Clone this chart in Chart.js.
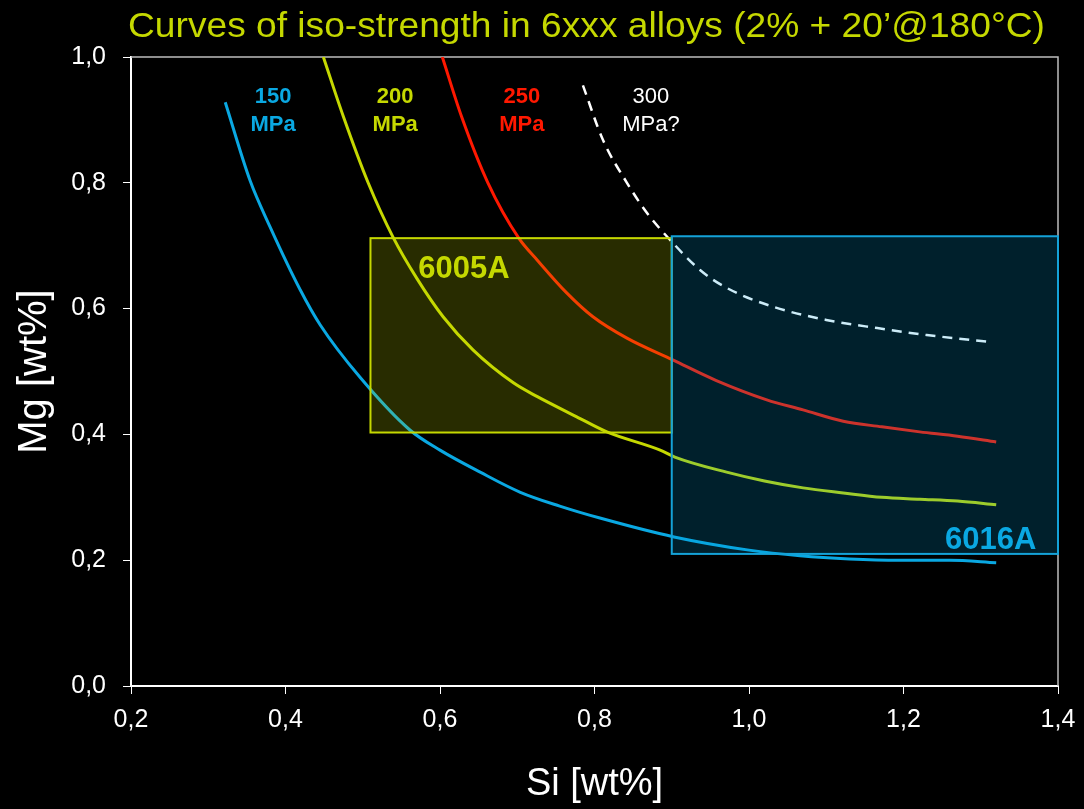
<!DOCTYPE html>
<html>
<head>
<meta charset="utf-8">
<script src="https://cdn.jsdelivr.net/npm/chart.js@4.4.0/dist/chart.umd.min.js"></script>
<style>
  html, body { margin: 0; padding: 0; background: #000; }
  #wrap { width: 1084px; height: 809px; }
</style>
</head>
<body>
<div id="wrap"><canvas id="isoChart" width="1084" height="809"></canvas></div>
<script>
// curve data (Si, Mg in wt%)
var si150 = [0.322, 0.354, 0.38, 0.419, 0.445, 0.497, 0.561, 0.6, 0.652, 0.704, 0.755, 0.807, 0.903, 1.0, 1.066, 1.13, 1.195, 1.26, 1.32];
var mg150 = [0.928, 0.804, 0.73, 0.63, 0.574, 0.49, 0.407, 0.375, 0.34, 0.308, 0.286, 0.267, 0.237, 0.216, 0.207, 0.202, 0.2, 0.2, 0.196];

var si200 = [0.449, 0.475, 0.507, 0.539, 0.57, 0.604, 0.643, 0.695, 0.726, 0.777, 0.816, 0.885, 0.904, 0.971, 1.02, 1.07, 1.122, 1.172, 1.221, 1.27, 1.32];
var mg200 = [1.0, 0.905, 0.8, 0.714, 0.648, 0.587, 0.534, 0.482, 0.46, 0.428, 0.404, 0.375, 0.364, 0.34, 0.326, 0.315, 0.307, 0.3, 0.297, 0.294, 0.288];

var si250 = [0.603, 0.628, 0.662, 0.702, 0.726, 0.764, 0.798, 0.842, 0.902, 0.957, 1.023, 1.07, 1.122, 1.172, 1.221, 1.27, 1.32];
var mg250 = [1.0, 0.905, 0.8, 0.712, 0.677, 0.625, 0.587, 0.553, 0.518, 0.486, 0.455, 0.439, 0.421, 0.412, 0.404, 0.397, 0.388];

var si300 = [0.785, 0.811, 0.842, 0.868, 0.898, 0.937, 0.971, 1.031, 1.1, 1.166, 1.23, 1.312];
var mg300 = [0.955, 0.868, 0.8, 0.752, 0.709, 0.661, 0.633, 0.603, 0.582, 0.569, 0.558, 0.547];

// alloy composition windows
var boxNames = ['6005A', '6016A'];
var boxSiMin = [0.51, 0.90];
var boxSiMax = [0.90, 1.40];
var boxMgMin = [0.403, 0.21];
var boxMgMax = [0.712, 0.715];

// curve labels
var curveLabels = [['150', 'MPa'], ['200', 'MPa'], ['250', 'MPa'], ['300', 'MPa?']];
var labelSi = [0.384, 0.542, 0.706, 0.873];

var xTickLabels = ['0,2', '0,4', '0,6', '0,8', '1,0', '1,2', '1,4'];
var yTickLabels = ['0,0', '0,2', '0,4', '0,6', '0,8', '1,0'];

var titleText = 'Curves of iso-strength in 6xxx alloys (2% + 20\u2019@180\u00b0C)';

var blue = '#0aa8e2';
var yellow = '#c5d800';
var red = '#ff1800';
var fontFamily = '"Liberation Sans", Arial, sans-serif';

function toPoints(xs, ys) {
    return xs.map(function(x, i) { return { x: x, y: ys[i] }; });
}

// slide title, fitted to the width used on the slide
var titlePlugin = {
    id: 'slideTitle',
    afterDraw: function(chart) {
        var ctx = chart.ctx;
        ctx.save();
        ctx.font = '35px ' + fontFamily;
        ctx.fillStyle = yellow;
        ctx.textAlign = 'left';
        ctx.textBaseline = 'alphabetic';
        var w = ctx.measureText(titleText).width;
        var target = 917;
        ctx.translate(128, 37);
        ctx.scale(target / w, 1);
        ctx.fillText(titleText, 0, 0);
        ctx.restore();
    }
};

// frame on top and right of the plot
var framePlugin = {
    id: 'frame',
    beforeDatasetsDraw: function(chart) {
        var a = chart.chartArea, ctx = chart.ctx;
        ctx.save();
        ctx.strokeStyle = '#bdbdbd';
        ctx.lineWidth = 1.5;
        ctx.beginPath();
        ctx.moveTo(a.left, a.top);
        ctx.lineTo(a.right, a.top);
        ctx.lineTo(a.right, a.bottom);
        ctx.stroke();
        ctx.restore();
    }
};

// boxes + text labels drawn over the curves
var overlayPlugin = {
    id: 'overlay',
    afterDatasetsDraw: function(chart) {
        var ctx = chart.ctx;
        var xs = chart.scales.x, ys = chart.scales.y;
        var fills = ['rgba(200,220,0,0.2)', 'rgba(0,160,220,0.2)'];
        var strokes = [yellow, '#14a2d8'];
        ctx.save();
        for (var i = 0; i < boxNames.length; i++) {
            var x0 = xs.getPixelForValue(boxSiMin[i]);
            var x1 = xs.getPixelForValue(boxSiMax[i]);
            var y0 = ys.getPixelForValue(boxMgMax[i]);
            var y1 = ys.getPixelForValue(boxMgMin[i]);
            ctx.fillStyle = fills[i];
            ctx.fillRect(x0, y0, x1 - x0, y1 - y0);
            ctx.strokeStyle = strokes[i];
            ctx.lineWidth = 2;
            ctx.strokeRect(x0, y0, x1 - x0, y1 - y0);
        }

        ctx.textAlign = 'center';
        ctx.textBaseline = 'middle';
        ctx.font = 'bold 31px ' + fontFamily;
        ctx.fillStyle = yellow;
        ctx.fillText(boxNames[0], xs.getPixelForValue(0.631), ys.getPixelForValue(0.662));
        ctx.fillStyle = blue;
        ctx.fillText(boxNames[1], xs.getPixelForValue(1.313), ys.getPixelForValue(0.232));

        var colors = [blue, yellow, red, '#ffffff'];
        for (var j = 0; j < curveLabels.length; j++) {
            ctx.font = (j < 3 ? 'bold ' : '') + '22px ' + fontFamily;
            ctx.fillStyle = colors[j];
            var px = xs.getPixelForValue(labelSi[j]);
            ctx.fillText(curveLabels[j][0], px, ys.getPixelForValue(0.936));
            ctx.fillText(curveLabels[j][1], px, ys.getPixelForValue(0.892));
        }
        ctx.restore();
    }
};

var ctx = document.getElementById('isoChart').getContext('2d');

var isoChart = new Chart(ctx, {
    type: 'scatter',
    data: {
        datasets: [
            { label: '150 MPa', data: toPoints(si150, mg150), borderColor: blue, borderWidth: 3 },
            { label: '200 MPa', data: toPoints(si200, mg200), borderColor: yellow, borderWidth: 3 },
            { label: '250 MPa', data: toPoints(si250, mg250), borderColor: red, borderWidth: 3 },
            { label: '300 MPa?', data: toPoints(si300, mg300), borderColor: '#ffffff', borderWidth: 2.5, borderDash: [10, 7] }
        ]
    },
    options: {
        responsive: false,
        animation: false,
        showLine: true,
        elements: {
            point: { radius: 0 },
            line: { cubicInterpolationMode: 'monotone', fill: false }
        },
        layout: { autoPadding: false, padding: { top: 57, right: 26, left: 0, bottom: 0 } },
        plugins: {
            legend: { display: false },
            tooltip: { enabled: false },
            title: { display: false }
        },
        scales: {
            x: {
                type: 'linear',
                min: 0.2,
                max: 1.4,
                afterFit: function(scale) {
                    scale.height = 123;
                    scale.paddingLeft = 0;
                    scale.paddingRight = 0;
                },
                ticks: {
                    stepSize: 0.2,
                    color: '#ffffff',
                    padding: 11,
                    font: { family: fontFamily, size: 25 },
                    callback: function(value, index) { return xTickLabels[index]; }
                },
                grid: { display: true, drawOnChartArea: false, drawTicks: true, tickLength: 8, color: '#ffffff' },
                border: { color: '#ffffff', width: 2 },
                title: {
                    display: true,
                    text: 'Si [wt%]',
                    color: '#ffffff',
                    font: { family: fontFamily, size: 38 },
                    padding: { top: 0, bottom: 2 }
                }
            },
            y: {
                type: 'linear',
                min: 0,
                max: 1.0,
                afterFit: function(scale) { scale.width = 131; },
                ticks: {
                    stepSize: 0.2,
                    color: '#ffffff',
                    padding: 17,
                    font: { family: fontFamily, size: 25 },
                    callback: function(value, index) { return yTickLabels[index]; }
                },
                grid: { display: true, drawOnChartArea: false, drawTicks: true, tickLength: 8, color: '#ffffff' },
                border: { color: '#ffffff', width: 2 },
                title: {
                    display: true,
                    text: 'Mg [wt%]',
                    color: '#ffffff',
                    font: { family: fontFamily, size: 40 },
                    padding: { top: 11, bottom: 0 }
                }
            }
        }
    },
    plugins: [framePlugin, overlayPlugin, titlePlugin]
});
</script>
</body>
</html>
